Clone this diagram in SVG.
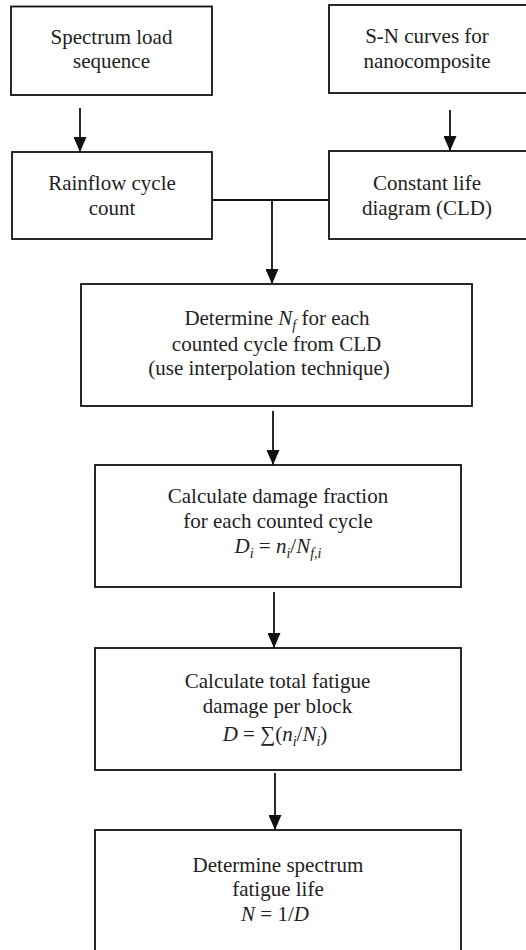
<svg xmlns="http://www.w3.org/2000/svg" width="526" height="950" viewBox="0 0 526 950">
<style>
.box{fill:#fff;stroke:#111;stroke-width:1.8}
.t{font-family:'Liberation Serif','DejaVu Serif',serif;font-size:21px;fill:#222;text-anchor:middle}
.i{font-style:italic}
.s{font-style:italic;font-size:14px}
.c{fill:none;stroke:#111;stroke-width:1.8}
</style>
<defs>
<marker id="ah" markerUnits="userSpaceOnUse" markerWidth="15" markerHeight="13" refX="15" refY="6.5" orient="auto">
<path d="M0,0 L15,6.5 L0,13 z" fill="#111"/>
</marker>
</defs>
<rect width="526" height="950" fill="#fff"/>
<g id="connectors">
<line class="c" x1="80" y1="108" x2="80" y2="152" marker-end="url(#ah)"/>
<line class="c" x1="450" y1="110" x2="450" y2="151" marker-end="url(#ah)"/>
<line class="c" x1="212" y1="200" x2="329" y2="200"/>
<line class="c" x1="272" y1="200" x2="272" y2="284" marker-end="url(#ah)"/>
<line class="c" x1="273" y1="411" x2="273" y2="465" marker-end="url(#ah)"/>
<line class="c" x1="274" y1="592" x2="274" y2="648" marker-end="url(#ah)"/>
<line class="c" x1="275" y1="773" x2="275" y2="830" marker-end="url(#ah)"/>
</g>
<g id="spectrum">
<rect class="box" x="11" y="6.5" width="201" height="88.5"/>
<text class="t" font-family="Liberation Serif, serif" x="111.5" y="44">Spectrum load</text>
<text class="t" font-family="Liberation Serif, serif" x="111.5" y="68">sequence</text>
</g>
<g id="sn">
<rect class="box" x="329" y="5" width="200" height="88"/>
<text class="t" x="427" y="43">S-N curves for</text>
<text class="t" x="427" y="68">nanocomposite</text>
</g>
<g id="rainflow">
<rect class="box" x="12" y="152" width="200" height="87"/>
<text class="t" x="112" y="190">Rainflow cycle</text>
<text class="t" x="112" y="215">count</text>
</g>
<g id="cld">
<rect class="box" x="329" y="151" width="200" height="88"/>
<text class="t" x="427" y="190">Constant life</text>
<text class="t" x="427" y="215">diagram (CLD)</text>
</g>
<g id="determine-nf">
<rect class="box" x="81" y="284" width="391" height="122"/>
<text class="t" x="277" y="325">Determine <tspan class="i">N</tspan><tspan class="s" dy="5">f</tspan><tspan dy="-5"> for each</tspan></text>
<text class="t" x="276.5" y="350.5">counted cycle from CLD</text>
<text class="t" x="269" y="375">(use interpolation technique)</text>
</g>
<g id="damage-fraction">
<rect class="box" x="95" y="465" width="366" height="122"/>
<text class="t" x="278" y="503">Calculate damage fraction</text>
<text class="t" x="278" y="528">for each counted cycle</text>
<text class="t" x="278" y="553"><tspan class="i">D</tspan><tspan class="s" dy="5">i</tspan><tspan dy="-5"> = </tspan><tspan class="i">n</tspan><tspan class="s" dy="5">i</tspan><tspan dy="-5">/</tspan><tspan class="i">N</tspan><tspan class="s" dy="5">f,i</tspan></text>
</g>
<g id="total-damage">
<rect class="box" x="95" y="648" width="366" height="122"/>
<text class="t" x="277.5" y="688">Calculate total fatigue</text>
<text class="t" x="277.5" y="713">damage per block</text>
<text class="t" x="275" y="740.5"><tspan class="i">D</tspan><tspan> = ∑(</tspan><tspan class="i">n</tspan><tspan class="s" dy="5">i</tspan><tspan dy="-5">/</tspan><tspan class="i">N</tspan><tspan class="s" dy="5">i</tspan><tspan dy="-5">)</tspan></text>
</g>
<g id="fatigue-life">
<rect class="box" x="95" y="830" width="366" height="130"/>
<text class="t" x="278" y="871.5">Determine spectrum</text>
<text class="t" x="278" y="895.5">fatigue life</text>
<text class="t" x="275" y="921"><tspan class="i">N</tspan> = 1/<tspan class="i">D</tspan></text>
</g>
</svg>
